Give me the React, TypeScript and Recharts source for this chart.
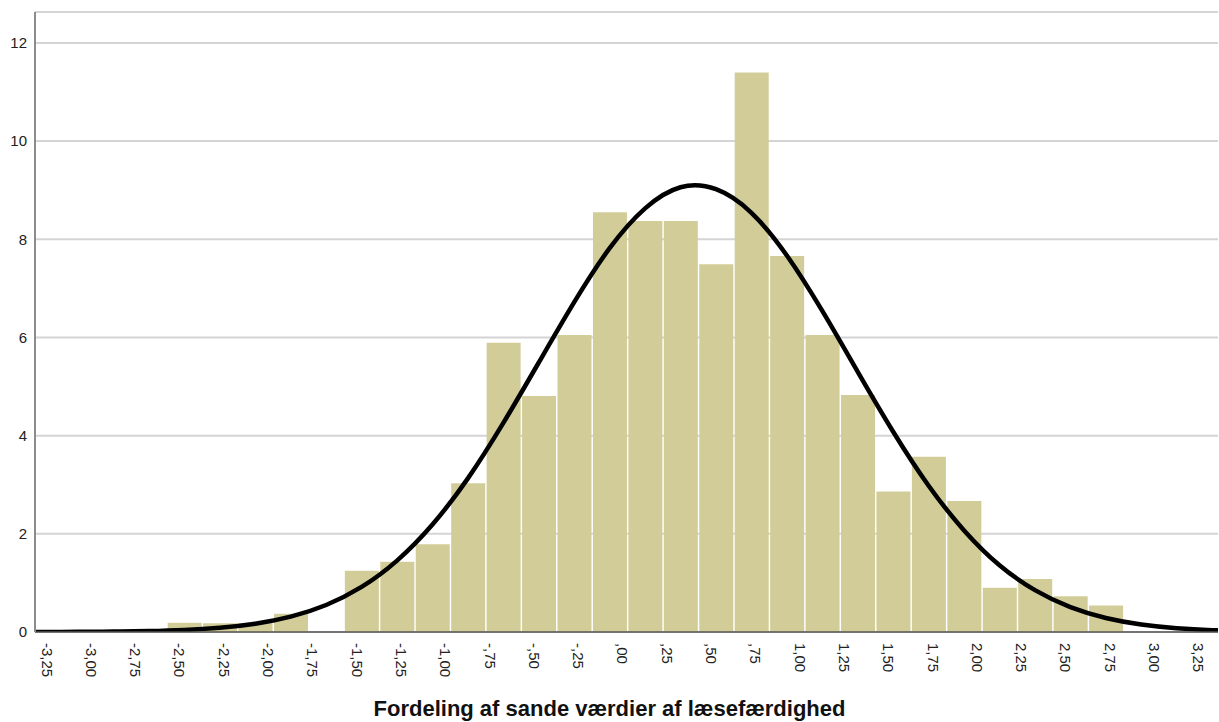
import { ComposedChart, Bar, Line, XAxis, YAxis, CartesianGrid } from 'recharts';

// histogram bins (bin centres, width 0.2) and their percentages
const binCenters = [
  -2.475, -2.275, -2.075, -1.875, -1.675, -1.475, -1.275, -1.075, -0.875, -0.675,
  -0.475, -0.275, -0.075, 0.125, 0.325, 0.525, 0.725, 0.925, 1.125, 1.325,
  1.525, 1.725, 1.925, 2.125, 2.325, 2.525, 2.725,
];
const binPercent = [
  0.19, 0.18, 0.18, 0.37, 0, 1.25, 1.43, 1.79, 3.03, 5.89,
  4.81, 6.05, 8.55, 8.37, 8.37, 7.49, 11.4, 7.66, 6.05, 4.83,
  2.86, 3.57, 2.67, 0.9, 1.08, 0.73, 0.54,
];

// normal curve, same 0.2 grid as the bins
const curveX = [
  -3.475, -3.275, -3.075, -2.875, -2.675, -2.475, -2.275, -2.075, -1.875, -1.675,
  -1.475, -1.275, -1.075, -0.875, -0.675, -0.475, -0.275, -0.075, 0.125, 0.325,
  0.525, 0.725, 0.925, 1.125, 1.325, 1.525, 1.725, 1.925, 2.125, 2.325,
  2.525, 2.725, 2.925, 3.125, 3.325, 3.525,
];
const curveY = [
  0.0005, 0.0014, 0.0036, 0.0086, 0.0195, 0.042, 0.087, 0.169, 0.313, 0.55,
  0.918, 1.455, 2.19, 3.13, 4.26, 5.49, 6.72, 7.82, 8.63, 9.06,
  9.02, 8.54, 7.67, 6.54, 5.3, 4.08, 2.98, 2.07, 1.36, 0.853,
  0.507, 0.286, 0.153, 0.078, 0.038, 0.017,
];

const xTicks = [
  -3.25, -3, -2.75, -2.5, -2.25, -2, -1.75, -1.5, -1.25, -1, -0.75, -0.5, -0.25,
  0, 0.25, 0.5, 0.75, 1, 1.25, 1.5, 1.75, 2, 2.25, 2.5, 2.75, 3, 3.25,
];
const yTicks = [0, 2, 4, 6, 8, 10, 12];

const title = 'Fordeling af sande værdier af læsefærdighed';

const key = (v: number) => v.toFixed(3);
const barByX = new Map(binCenters.map((x, i) => [key(x), binPercent[i]]));
const rows = curveX.map((x, i) => ({
  x,
  curve: curveY[i],
  pct: barByX.has(key(x)) && barByX.get(key(x))! > 0 ? barByX.get(key(x)) : null,
}));

const font = '"Liberation Sans", Arial, sans-serif';

// danish style: -,75  ,00  1,25
const fmt = (v: number) => v.toFixed(2).replace('.', ',').replace(/^(-?)0,/, '$1,');

function XTick(props: any) {
  const { x, y, payload } = props;
  const ty = y + 3;
  return (
    <text
      x={x}
      y={ty}
      transform={`rotate(90, ${x}, ${ty})`}
      textAnchor="start"
      dominantBaseline="central"
      fontSize={15}
      fontFamily={font}
      fill="#222"
    >
      {fmt(payload.value)}
    </text>
  );
}

export default function App() {
  return (
    <div style={{ position: 'absolute', left: 0, top: 0, width: 1219, height: 722, background: '#fff' }}>
      <ComposedChart
        width={1219}
        height={722}
        data={rows}
        margin={{ top: 12, right: 1, left: 0, bottom: 30 }}
      >
        <CartesianGrid vertical={false} stroke="#d4d4d4" strokeWidth={2} />
        <XAxis
          type="number"
          dataKey="x"
          domain={[-3.318, 3.358]}
          allowDataOverflow
          ticks={xTicks}
          interval={0}
          tickLine={false}
          axisLine={{ stroke: '#555', strokeWidth: 1.5 }}
          height={60}
          tick={<XTick />}
        />
        <YAxis
          type="number"
          domain={[0, 12.63]}
          allowDataOverflow
          ticks={yTicks}
          interval={0}
          width={35}
          tickLine={false}
          axisLine={{ stroke: '#8c8c8c', strokeWidth: 2 }}
          tick={{ fontSize: 15, fontFamily: font, fill: '#222' }}
        />
        <Bar dataKey="pct" fill="#d2cd98" barSize={34} isAnimationActive={false} />
        <Line
          dataKey="curve"
          type="natural"
          stroke="#000"
          strokeWidth={4.5}
          dot={false}
          activeDot={false}
          isAnimationActive={false}
        />
      </ComposedChart>
      <div
        style={{
          position: 'absolute',
          left: 0,
          top: 698,
          width: 1219,
          textAlign: 'center',
          fontFamily: font,
          fontWeight: 'bold',
          fontSize: 22,
          lineHeight: '22px',
          color: '#111',
        }}
      >
        {title}
      </div>
    </div>
  );
}
